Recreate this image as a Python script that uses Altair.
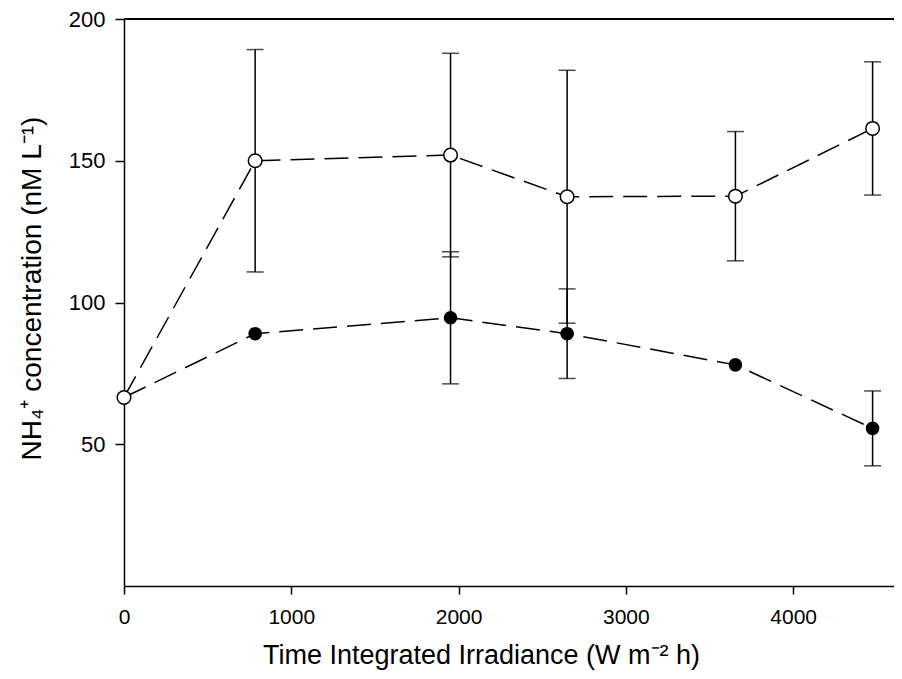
import altair as alt
import pandas as pd

# Data
irradiance = [0, 784, 1952, 2649, 3655, 4475]
open_mean = [66.5, 150.0, 152.0, 137.3, 137.5, 161.4]
open_err = [None, 39.2, 35.9, 44.6, 22.8, 23.5]
filled_mean = [66.5, 89.0, 94.6, 89.0, 78.0, 55.6]
filled_err = [None, None, 23.3, 15.8, None, 13.2]

y_ticks = [50, 100, 150, 200]
x_ticks = [0, 1000, 2000, 3000, 4000]

rows = []
for s, means, errs in [("open", open_mean, open_err), ("filled", filled_mean, filled_err)]:
    for x, m, e in zip(irradiance, means, errs):
        rows.append({
            "series": s, "x": x, "y": m,
            "lo": (m - e) if e is not None else None,
            "hi": (m + e) if e is not None else None,
        })
df = pd.DataFrame(rows)
df_open = df[df.series == "open"]
df_filled = df[df.series == "filled"]
df_err = df.dropna(subset=["lo", "hi"])

W, H = 770, 567
FONT = "Liberation Sans"

xscale = alt.Scale(domain=[0, 4603], nice=False, zero=False)
yscale = alt.Scale(domain=[0, 200], nice=False)

x_axis = alt.Axis(
    values=x_ticks, format="d", title="Time Integrated Irradiance (W m⁻² h)", grid=False,
    tickSize=8, labelPadding=12, labelFontSize=21, titleFontSize=27,
    titleX=357, titleY=69, titleBaseline="middle", titleAlign="center",
    labelFont=FONT, titleFont=FONT, labelColor="black", titleColor="black",
    domainColor="black", tickColor="black", domainWidth=1.5, tickWidth=1.5,
    labelFlush=False, titleFontWeight="normal",
)
y_axis = alt.Axis(
    values=y_ticks, format="d", title="NH₄⁺ concentration (nM L⁻¹)", grid=False,
    tickSize=9, labelPadding=10, labelFontSize=22, titleFontSize=28,
    titleX=-92, titleY=269, titleBaseline="middle", titleAlign="center",
    labelFont=FONT, titleFont=FONT, labelColor="black", titleColor="black",
    domainColor="black", tickColor="black", domainWidth=1.5, tickWidth=1.5,
    labelFlush=False, titleFontWeight="normal",
)

line_kw = dict(color="black", strokeWidth=1.5, strokeDash=[24, 10])

lines = alt.Chart(df).mark_line(**line_kw).encode(
    x=alt.X("x:Q", scale=xscale, axis=x_axis),
    y=alt.Y("y:Q", scale=yscale, axis=y_axis),
    detail="series:N",
)

bars = alt.Chart(df_err).mark_rule(color="black", strokeWidth=1.5).encode(
    x="x:Q", y="lo:Q", y2="hi:Q"
)
caps_hi = alt.Chart(df_err).mark_tick(color="black", orient="horizontal", size=17, thickness=1.5).encode(
    x="x:Q", y="hi:Q"
)
caps_lo = alt.Chart(df_err).mark_tick(color="black", orient="horizontal", size=17, thickness=1.5).encode(
    x="x:Q", y="lo:Q"
)

filled_pts = alt.Chart(df_filled).mark_point(
    shape="circle", filled=True, color="black", size=185, opacity=1
).encode(x="x:Q", y="y:Q")

open_pts = alt.Chart(df_open).mark_point(
    shape="circle", filled=True, fill="white", stroke="black", strokeWidth=1.5, size=185, opacity=1
).encode(x="x:Q", y="y:Q")

top_frame = alt.Chart(df).mark_rule(color="black", strokeWidth=1.5).encode(
    x=alt.value(0), x2=alt.value(W), y=alt.value(0)
)

chart = alt.layer(lines, bars, caps_hi, caps_lo, filled_pts, open_pts, top_frame).properties(
    width=W, height=H,
    autosize=alt.AutoSizeParams(type="none"),
    padding={"left": 116, "top": 11, "right": 0, "bottom": 85},
).configure_view(stroke=None).configure(background="white")

chart.save("out.html", embed_options={"renderer": "svg", "actions": False})
